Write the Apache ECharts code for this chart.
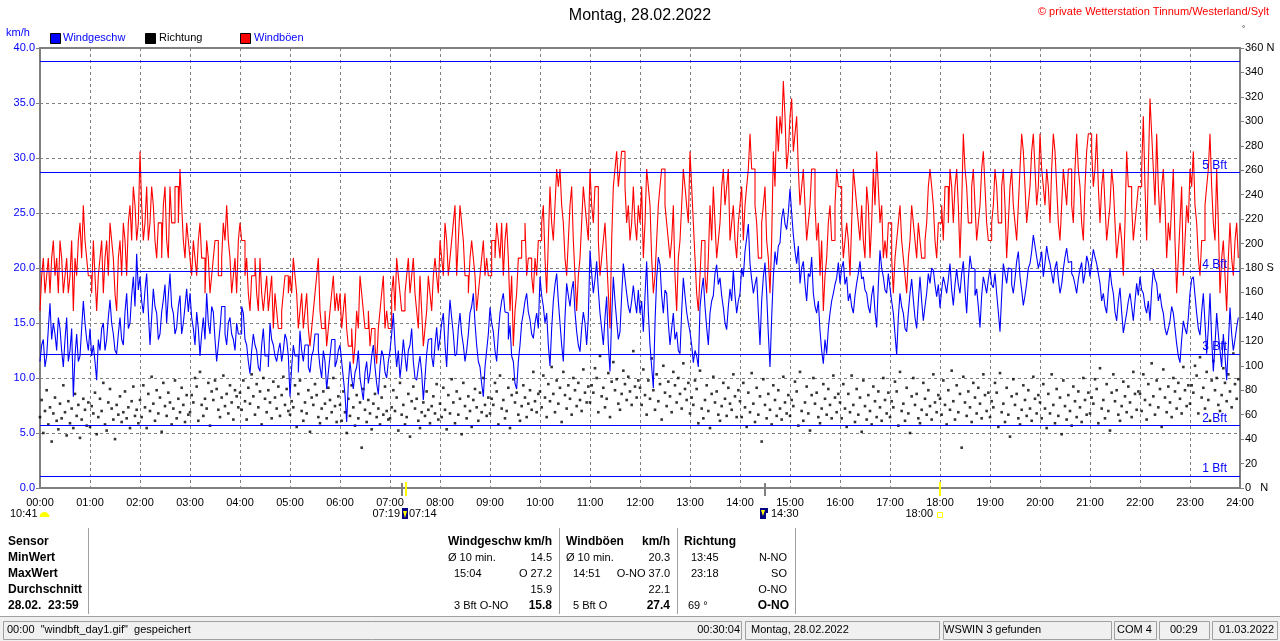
<!DOCTYPE html>
<html><head><meta charset="utf-8">
<script src="https://cdn.jsdelivr.net/npm/echarts@6/dist/echarts.min.js"></script>
<style>html,body{margin:0;padding:0;background:#fff;}#c{width:1280px;height:641px;}</style>
</head><body><div id="c"></div><script>
// ---------- DATA ----------
const timeLabels = ['00:00','01:00','02:00','03:00','04:00','05:00','06:00','07:00','08:00','09:00','10:00','11:00','12:00','13:00','14:00','15:00','16:00','17:00','18:00','19:00','20:00','21:00','22:00','23:00','24:00'];
const speedStepMin = 2;   // minutes between wind samples
const dirStepMin = 2;     // minutes between direction samples

// Windgeschw (km/h), 30 values per hour
const windSpeed = [
 11.5,13.0,13.5,11.0,12.0,14.5,16.8,13.5,15.0,14.0,12.5,15.5,14.5,12.5,11.0,13.5,15.5,11.5,12.5,14.5,8.3,12.0,14.0,11.5,12.0,14.5,17.0,15.0,13.5,12.5,
 14.5,12.0,13.0,11.5,9.8,13.5,12.5,14.5,15.0,12.5,13.5,15.5,17.1,15.0,14.0,12.5,12.2,14.0,15.5,13.5,13.0,16.0,17.7,14.5,15.0,17.5,19.2,16.5,21.3,18.0,
 19.2,17.0,15.9,18.0,19.5,16.0,13.0,15.5,18.1,16.5,15.9,13.5,14.0,16.0,17.1,18.5,15.0,17.5,19.5,16.5,15.9,14.0,14.6,16.5,17.5,14.0,15.0,16.5,18.1,16.0,
 17.7,15.5,14.5,13.0,16.0,14.5,12.0,14.0,15.5,13.5,17.7,15.0,14.0,16.5,16.0,13.5,11.5,13.0,14.5,16.5,16.5,14.0,13.0,15.0,15.5,14.0,13.5,12.5,15.0,14.0,
 14.0,16.5,15.9,13.5,13.0,11.5,10.4,12.5,14.0,13.0,12.5,11.0,10.6,13.0,14.5,12.0,12.0,11.0,15.0,13.5,13.0,12.0,11.5,12.5,13.2,11.5,12.5,14.0,13.5,12.0,
 8.3,11.0,13.0,12.0,12.0,10.5,14.3,12.5,11.5,13.0,13.0,11.0,10.5,12.0,12.5,14.0,14.0,12.5,11.0,10.0,12.5,11.5,9.0,10.5,12.0,13.5,13.5,11.0,11.5,12.5,
 13.0,11.5,10.0,8.5,6.0,9.5,11.5,10.0,9.0,10.5,11.0,12.5,10.0,9.0,8.0,10.5,11.5,9.5,10.5,12.0,13.0,11.0,9.5,8.5,11.0,12.5,12.0,10.5,10.0,11.5,
 12.5,14.0,15.9,13.0,11.0,12.5,10.0,11.5,13.5,12.0,10.6,12.5,13.0,14.5,11.5,10.0,9.8,11.0,12.0,10.5,8.0,10.0,12.2,13.5,13.6,12.0,11.0,13.0,14.6,12.5,
 13.6,15.0,15.9,13.0,11.0,14.5,17.1,15.5,14.0,12.0,12.2,14.5,15.9,14.0,13.0,11.5,12.5,14.0,15.9,16.5,17.7,15.0,13.0,11.5,11.0,9.5,8.3,11.0,12.5,14.0,
 16.4,15.0,14.2,12.5,11.5,14.0,15.9,17.0,17.7,16.0,15.9,13.5,14.8,12.0,11.5,9.5,9.0,11.5,13.0,15.0,15.9,17.0,17.7,16.0,15.3,14.0,13.6,15.0,15.9,14.5,
 19.2,17.5,16.5,15.0,15.9,13.0,11.1,14.5,17.0,18.5,19.5,17.0,15.0,13.0,11.5,15.5,18.6,17.5,16.5,18.0,18.8,16.0,14.2,13.0,12.4,14.5,16.0,15.0,13.0,15.5,
 21.6,19.5,17.7,19.0,20.6,18.0,15.9,14.5,13.0,15.5,17.4,13.0,10.6,15.5,19.2,17.0,15.2,13.5,14.2,17.5,20.4,19.0,17.7,16.5,15.9,17.0,18.4,17.0,15.9,18.0,
 15.9,17.0,14.2,17.5,20.6,16.0,13.0,11.0,9.1,15.0,19.1,21.0,20.3,17.5,15.9,18.0,17.7,15.0,13.0,14.5,15.9,13.5,14.2,12.5,12.2,16.0,19.1,17.5,16.0,15.0,
 14.2,13.0,11.4,12.5,12.0,11.0,16.4,18.0,19.1,16.5,14.6,13.0,15.9,17.0,17.5,19.5,20.3,18.5,19.1,17.5,16.4,15.0,14.4,16.5,18.1,17.0,19.8,17.5,15.9,17.0,
 17.7,20.0,19.2,21.5,22.7,24.0,20.4,19.0,17.7,18.5,19.2,16.0,13.0,17.0,19.2,20.5,17.7,14.0,11.0,15.5,19.2,21.5,20.3,22.0,22.3,24.5,25.4,24.0,23.5,25.0,
 27.2,25.0,23.0,21.5,20.4,22.0,18.6,20.0,20.6,18.5,17.0,19.5,19.2,21.0,17.7,16.5,15.9,17.0,14.3,12.5,11.3,13.5,12.2,14.5,15.9,17.0,17.7,18.5,19.1,20.5,
 18.6,20.0,20.6,18.5,19.2,17.0,17.7,16.5,15.9,17.5,18.6,19.5,20.6,19.0,19.2,18.0,17.7,16.5,15.9,17.5,18.4,16.0,14.6,18.5,21.6,20.0,19.2,18.0,17.7,19.5,
 18.2,17.0,15.9,14.0,12.1,15.5,17.7,16.5,15.9,14.5,14.2,16.0,17.7,19.0,17.1,15.5,14.5,17.0,19.2,17.0,15.2,16.5,17.7,19.5,18.6,20.0,19.8,18.5,17.4,18.5,
 16.4,18.0,19.2,18.5,17.7,19.0,20.4,18.0,16.6,18.5,19.9,18.5,17.7,19.5,20.6,18.0,15.9,19.0,21.1,20.0,19.9,17.5,18.1,16.5,14.6,17.5,19.2,18.5,17.7,19.0,
 19.9,18.5,18.2,19.5,17.7,16.0,14.2,17.5,20.4,19.5,18.6,20.0,19.9,18.5,17.7,19.0,20.6,21.5,19.2,18.0,16.6,17.5,18.6,20.0,20.4,21.5,23.0,22.0,21.0,20.0,
 20.6,21.5,19.2,20.5,22.0,21.0,20.4,19.5,18.6,20.0,20.6,19.0,17.7,18.5,19.9,21.0,21.8,20.5,20.6,19.5,19.2,18.5,17.7,19.0,19.9,20.5,18.6,19.5,21.1,20.5,
 19.2,20.5,21.7,21.0,20.4,19.5,18.6,17.0,17.7,16.5,15.9,18.0,19.9,18.5,17.7,16.0,15.2,17.0,18.2,16.0,14.1,15.0,15.9,17.0,17.7,16.5,15.2,17.0,18.6,17.5,
 19.2,18.0,17.7,16.5,15.9,17.0,15.2,18.0,19.9,19.0,18.6,17.0,17.7,16.5,15.9,14.5,13.9,14.5,15.2,16.5,15.9,14.5,13.1,12.0,11.4,13.5,15.2,14.5,14.0,15.5,
 17.7,19.0,19.2,17.5,15.9,14.5,13.9,16.0,17.7,15.0,12.2,14.5,17.7,13.5,10.6,13.0,15.9,14.0,12.5,11.0,14.0,12.0,9.8,13.0,16.4,14.0,12.5,13.5,14.6,15.5
];

// Windböen (km/h), 30 values per hour
const windGust = [
 16.1,19.3,20.9,17.7,19.3,20.9,17.7,20.9,22.5,19.3,20.9,17.7,22.5,20.9,17.7,19.3,20.9,17.7,19.3,22.5,16.1,20.9,19.3,22.5,24.1,20.9,25.7,22.5,20.9,19.3,
 19.3,17.7,22.5,19.3,16.1,19.3,20.9,22.5,17.7,20.9,22.5,19.3,24.1,22.5,20.9,17.7,16.1,20.9,22.5,19.3,24.1,22.5,19.3,24.1,25.7,22.5,27.4,25.7,22.5,24.1,
 30.6,25.7,22.5,24.1,27.4,22.5,24.1,27.4,25.7,22.5,20.9,24.1,24.1,20.9,25.7,27.4,22.5,20.9,27.4,24.1,24.1,27.4,27.4,24.1,29.0,25.7,22.5,20.9,24.1,22.5,
 20.9,19.3,22.5,20.9,19.3,22.5,24.1,20.9,20.9,17.7,22.5,20.9,17.7,19.3,20.9,22.5,22.5,19.3,19.3,20.9,24.1,22.5,25.7,22.5,20.9,17.7,19.3,20.9,17.7,22.5,
 24.1,22.5,22.5,19.3,20.9,17.7,16.1,19.3,19.3,20.9,17.7,16.1,20.9,17.7,16.1,17.7,19.3,16.1,17.7,19.3,14.5,17.7,16.1,14.5,14.5,16.1,17.7,19.3,19.3,17.7,
 19.3,17.7,20.9,19.3,17.7,14.5,16.1,17.7,14.5,16.1,17.7,14.5,12.9,14.5,16.1,17.7,19.3,20.9,16.1,14.5,14.5,16.1,12.9,14.5,16.1,17.7,19.3,16.1,17.7,16.1,
 17.7,14.5,16.1,17.7,14.5,12.9,12.9,14.5,11.3,12.9,16.1,14.5,19.3,17.7,16.1,14.5,14.5,16.1,12.9,14.5,14.5,12.9,11.3,14.5,16.1,17.7,19.3,14.5,16.1,14.5,
 14.5,17.7,19.3,16.1,20.9,19.3,17.7,16.1,16.1,17.7,19.3,20.9,17.7,19.3,20.9,17.7,16.1,14.5,19.3,16.1,12.9,14.5,16.1,19.3,17.7,16.1,19.3,20.9,19.3,17.7,
 22.5,20.9,19.3,24.1,22.5,19.3,20.9,22.5,24.1,25.7,19.3,22.5,25.7,24.1,22.5,19.3,19.3,17.7,20.9,22.5,20.9,19.3,16.1,17.7,19.3,20.9,22.5,19.3,20.9,19.3,
 19.3,22.5,22.5,20.9,24.1,22.5,20.9,24.1,19.3,22.5,24.1,20.9,16.1,19.3,12.9,16.1,17.7,20.9,20.9,22.5,22.5,24.1,19.3,20.9,20.9,19.3,17.7,20.9,19.3,22.5,
 22.5,24.1,25.7,20.9,17.7,22.5,27.4,24.1,22.5,25.7,29.0,27.4,29.0,25.7,24.1,20.9,19.3,22.5,25.7,27.4,22.5,19.3,16.1,19.3,20.9,24.1,27.4,25.7,24.1,22.5,
 29.0,25.7,24.1,27.4,27.4,22.5,19.3,20.9,22.5,24.1,20.9,17.7,14.5,22.5,27.4,29.0,30.6,27.4,29.0,30.6,30.6,27.4,24.1,25.7,22.5,24.1,27.4,24.1,22.5,25.7,
 24.1,27.4,20.9,24.1,29.0,27.4,25.7,20.9,17.7,19.3,22.5,25.7,27.4,29.0,29.0,25.7,24.1,22.5,20.9,22.5,25.7,19.3,16.1,20.9,22.5,25.7,29.0,27.4,25.7,24.1,
 30.6,27.4,24.1,20.9,17.7,16.1,19.3,22.5,22.5,19.3,17.7,20.9,25.7,22.5,27.4,24.1,20.9,22.5,24.1,27.4,29.0,25.7,27.4,29.0,22.5,24.1,25.7,22.5,20.9,24.1,
 25.7,27.4,22.5,25.7,27.4,29.0,32.2,29.0,29.0,25.7,24.1,20.9,20.9,24.1,25.7,27.4,22.5,20.9,17.7,22.5,30.6,27.4,33.8,30.6,33.8,32.2,37.0,33.8,29.0,30.6,
 33.8,35.4,30.6,32.2,33.8,29.0,25.7,27.4,29.0,25.7,22.5,24.1,25.7,29.0,29.0,25.7,22.5,24.1,19.3,22.5,16.1,19.3,20.9,24.1,25.7,22.5,22.5,25.7,29.0,27.4,
 27.4,24.1,20.9,22.5,24.1,22.5,19.3,24.1,29.0,27.4,25.7,24.1,22.5,25.7,22.5,20.9,27.4,25.7,20.9,24.1,29.0,25.7,30.6,27.4,24.1,25.7,20.9,22.5,20.9,24.1,
 24.1,20.9,17.7,20.9,22.5,24.1,25.7,22.5,20.9,19.3,17.7,20.9,22.5,25.7,24.1,22.5,20.9,24.1,22.5,20.9,20.9,22.5,24.1,27.4,29.0,27.4,25.7,22.5,20.9,24.1,
 24.1,25.7,22.5,27.4,27.4,24.1,29.0,27.4,24.1,27.4,29.0,25.7,20.9,25.7,32.2,29.0,27.4,24.1,24.1,27.4,29.0,25.7,22.5,24.1,25.7,29.0,30.6,27.4,24.1,22.5,
 22.5,24.1,25.7,29.0,27.4,24.1,24.1,27.4,29.0,25.7,20.9,24.1,27.4,29.0,25.7,24.1,22.5,25.7,29.0,32.2,30.6,27.4,24.1,25.7,27.4,30.6,32.2,29.0,25.7,27.4,
 32.2,29.0,27.4,25.7,29.0,27.4,24.1,29.0,32.2,30.6,27.4,24.1,22.5,25.7,29.0,27.4,25.7,29.0,29.0,25.7,24.1,29.0,32.2,29.0,27.4,24.1,22.5,27.4,30.6,32.2,
 32.2,30.6,27.4,29.0,32.2,27.4,24.1,27.4,29.0,25.7,22.5,24.1,25.7,29.0,27.4,24.1,20.9,22.5,24.1,22.5,19.3,24.1,30.6,27.4,27.4,25.7,22.5,24.1,25.7,27.4,
 27.4,29.0,33.8,27.4,22.5,29.0,35.4,32.2,29.0,25.7,32.2,27.4,24.1,27.4,29.0,25.7,20.9,24.1,22.5,25.7,29.0,22.5,17.7,20.9,24.1,27.4,19.3,22.5,25.7,24.1,
 29.0,27.4,30.6,25.7,24.1,20.9,19.3,22.5,22.5,25.7,27.4,29.0,32.2,27.4,24.1,22.5,29.0,24.1,17.7,20.9,22.5,19.3,16.1,20.9,24.1,20.9,19.3,22.5,24.1,20.9
];

// Richtung (degrees), 30 values per hour
const windDir = [
 58,72,45,63,80,52,66,38,61,74,55,48,69,57,84,62,43,71,53,65,49,77,59,68,41,56,73,64,51,70,
 50,67,61,78,44,58,73,63,86,52,47,70,81,65,56,40,68,60,75,54,62,79,57,66,49,71,83,59,64,53,
 72,58,84,66,49,77,63,91,69,55,80,61,74,46,86,67,59,78,70,52,65,88,57,73,62,82,68,54,76,60,
 62,76,70,90,83,55,95,68,59,73,65,86,51,79,72,88,81,64,58,74,92,67,77,61,84,70,56,80,75,66,
 78,64,88,71,56,82,69,93,75,60,85,66,79,52,90,73,62,80,70,57,87,74,65,83,59,76,91,68,81,63,
 60,71,66,84,50,77,88,63,55,70,61,80,46,74,68,85,76,58,53,65,79,69,57,82,72,62,90,67,54,75,
 68,55,79,62,45,73,59,84,66,51,76,57,70,33,81,64,54,72,61,48,69,77,58,65,52,74,60,83,63,56,
 57,66,80,63,74,47,86,60,68,52,58,77,42,71,83,65,73,55,49,62,70,59,79,64,53,67,75,61,85,56,
 69,58,82,64,48,76,61,89,70,53,79,60,73,44,86,67,57,75,63,50,72,81,66,55,78,62,90,68,59,74,
 61,73,68,86,79,52,92,65,72,57,63,82,49,76,89,70,78,60,55,67,84,74,58,69,80,64,95,71,62,77,
 79,66,92,74,58,85,71,99,77,62,88,69,82,54,95,76,65,84,73,60,90,80,67,86,72,63,97,78,70,83,
 70,84,78,98,90,62,108,75,82,66,73,94,58,87,103,80,89,69,64,77,96,85,72,91,79,68,112,83,74,88,
 82,68,97,76,60,88,73,106,80,64,93,71,85,56,100,78,67,87,75,62,95,84,70,90,77,65,102,81,72,86,
 61,74,68,88,81,53,96,65,57,72,84,63,49,77,91,70,79,60,55,67,86,73,59,82,69,64,93,75,58,80,
 71,58,86,66,50,78,62,94,69,54,82,60,75,38,89,68,57,77,64,52,84,72,59,80,65,56,91,70,61,76,
 59,72,67,87,79,51,95,63,55,70,83,61,47,76,90,69,78,58,53,65,85,73,60,81,68,57,92,74,62,77,
 70,57,85,65,50,77,62,92,68,54,81,60,74,46,88,67,56,76,63,52,83,71,58,79,66,55,90,72,61,78,
 58,71,66,87,79,51,95,63,69,55,82,61,45,75,90,68,77,57,53,64,86,73,60,80,67,56,93,70,62,76,
 73,60,88,68,52,80,64,96,71,56,84,62,77,33,91,70,59,79,66,54,86,74,61,82,69,57,93,76,63,78,
 58,71,66,86,78,50,94,62,69,54,82,60,42,75,89,68,77,57,52,64,84,72,59,80,65,55,91,73,61,76,
 70,57,85,65,49,77,61,93,68,53,81,59,74,44,88,67,56,76,63,51,83,71,58,79,66,54,90,72,60,78,
 61,74,69,89,81,53,98,65,72,57,85,63,47,78,93,71,80,60,55,67,87,75,62,83,70,58,95,77,64,79,
 77,63,93,72,56,85,68,102,75,60,88,66,81,50,97,74,62,83,70,58,90,79,65,86,73,61,99,80,67,84,
 69,84,78,100,92,61,107,74,82,65,95,72,55,88,104,80,90,68,63,76,98,86,71,93,79,66,110,85,73,89
];

// Beaufort boundary lines (km/h) and labels
const bftLevels = [1.1, 5.7, 12.2, 19.7, 28.7, 38.8];
const bftNames = ['1 Bft','2 Bft','3 Bft','4 Bft','5 Bft',''];
const dirAxisNames = {0:'0   N', 180:'180 S', 360:'360 N'};

// ---------- CHART ----------
const FONT = '"Liberation Sans", Arial, sans-serif';
const speedData = windSpeed.map((v,i)=>[i*speedStepMin, v]);
const gustData = windGust.map((v,i)=>[i*speedStepMin, v]);
const dirData = windDir.map((v,i)=>[i*dirStepMin, v]);

const RF = '11px '+FONT;
const B = 'bold 12px '+FONT;
function T(x,y,text,opt){
  const st = Object.assign({text:text, fill:'#000', font:RF,
    align:'left', verticalAlign:'middle', textAlign:'left', textVerticalAlign:'middle'}, opt||{});
  if (opt && opt.align){ st.textAlign = opt.align; }
  return {type:'text', x:x, y:y, silent:true, z:100, style:st};
}
function R(x,y,w,h,fill,stroke){
  return {type:'rect', silent:true, z:100, shape:{x:x,y:y,width:w,height:h}, style:{fill:fill||'none', stroke:stroke||null, lineWidth:1}};
}
function L(x1,y1,x2,y2,c){
  return {type:'line', silent:true, z:100, shape:{x1:x1,y1:y1,x2:x2,y2:y2}, style:{stroke:c, lineWidth:1}};
}
const graphics = [
  T(6,33,'km/h',{fill:'#0000ff'}),
  R(50.5,33.5,10,10,'#0000ff','#000'), T(63,38,'Windgeschw',{fill:'#0000ff'}),
  R(145.5,33.5,10,10,'#000','#000'), T(159,38,'Richtung'),
  R(240.5,33.5,10,10,'#ff0000','#000'), T(254,38,'Windböen',{fill:'#0000ff'}),
  T(1269,12,'© private Wetterstation Tinnum/Westerland/Sylt',{fill:'#ff0000',align:'right'}),
  T(1242,29,'°',{font:'8px '+FONT}),
  // markers on the time axis
  R(401,483,2,13,'#808080'), R(405,482,2,14,'#ffff00'),
  R(764,483,2,13,'#808080'), R(939,482,2,14,'#ffff00'),
  {type:'sector', silent:true, z:100, shape:{cx:44.5,cy:517,r:5,r0:0,startAngle:Math.PI,endAngle:2*Math.PI}, style:{fill:'#ffff00'}},
  T(10,514,'10:41'),
  T(400,514,'07:19',{align:'right'}),
  R(402,508,6,11,'#000080'),
  {type:'polygon', silent:true, z:101, shape:{points:[[403,511],[407,511],[405,518]]}, style:{fill:'#ffff00'}},
  T(409,514,'07:14'),
  R(760,508,8,11,'#000080'),
  {type:'polygon', silent:true, z:101, shape:{points:[[761,510],[765,510],[763,516]]}, style:{fill:'#ffff00'}},
  R(766,513,2,6,'#ffffff'),
  T(771,514,'14:30'),
  T(933,514,'18:00',{align:'right'}),
  R(937.5,512.5,5,5,null,'#ffff00'),
  // table
  T(8,542,'Sensor',{font:B}), T(8,558,'MinWert',{font:B}), T(8,574,'MaxWert',{font:B}),
  T(8,590,'Durchschnitt',{font:B}), T(8,606,'28.02.  23:59',{font:B}),
  L(88.5,528,88.5,614,'#a0a0a0'), L(559.5,528,559.5,614,'#a0a0a0'),
  L(677.5,528,677.5,614,'#a0a0a0'), L(795.5,528,795.5,614,'#a0a0a0'),
  T(448,542,'Windgeschw',{font:B}), T(552,542,'km/h',{font:B,align:'right'}),
  T(448,558,'Ø 10 min.'), T(552,558,'14.5',{align:'right'}),
  T(454,574,'15:04'), T(552,574,'O 27.2',{align:'right'}),
  T(552,590,'15.9',{align:'right'}),
  T(454,606,'3 Bft O-NO'), T(552,606,'15.8',{font:B,align:'right'}),
  T(566,542,'Windböen',{font:B}), T(670,542,'km/h',{font:B,align:'right'}),
  T(566,558,'Ø 10 min.'), T(670,558,'20.3',{align:'right'}),
  T(573,574,'14:51'), T(670,574,'O-NO 37.0',{align:'right'}),
  T(670,590,'22.1',{align:'right'}),
  T(573,606,'5 Bft O'), T(670,606,'27.4',{font:B,align:'right'}),
  T(684,542,'Richtung',{font:B}),
  T(691,558,'13:45'), T(787,558,'N-NO',{align:'right'}),
  T(691,574,'23:18'), T(787,574,'SO',{align:'right'}),
  T(787,590,'O-NO',{align:'right'}),
  T(688,606,'69 °'), T(789,606,'O-NO',{font:B,align:'right'}),
  // status bar
  R(0,617,1280,24,'#f0f0f0'),
  L(0,616.5,1280,616.5,'#a0a0a0'),
  R(3.5,621.5,738,18,null,'#a0a0a0'),
  R(745.5,621.5,194,18,null,'#a0a0a0'),
  R(943.5,621.5,168,18,null,'#a0a0a0'),
  R(1114.5,621.5,42,18,null,'#a0a0a0'),
  R(1159.5,621.5,50,18,null,'#a0a0a0'),
  R(1212.5,621.5,65,18,null,'#a0a0a0'),
  T(7,630,'00:00  "windbft_day1.gif"  gespeichert'),
  T(740,630,'00:30:04',{align:'right'}),
  T(751,630,'Montag, 28.02.2022'),
  T(944,630,'WSWIN 3 gefunden'),
  T(1117,630,'COM 4'),
  T(1170,630,'00:29'),
  T(1219,630,'01.03.2022')
];

const chart = echarts.init(document.getElementById('c'), null, {renderer:'canvas'});
chart.setOption({
  animation:false,
  backgroundColor:'#ffffff',
  textStyle:{fontFamily:FONT},
  title:{text:'Montag, 28.02.2022', left:'center', top:3,
    textStyle:{fontSize:16, fontWeight:'normal', color:'#000', fontFamily:FONT}},
  grid:{left:40, right:40, top:48, bottom:153, containLabel:false},
  xAxis:[{
    type:'value', min:0, max:1440, interval:60, position:'bottom',
    axisLine:{show:true, onZero:false, lineStyle:{color:'#808080', width:2}},
    axisTick:{show:false},
    axisLabel:{color:'#000', fontSize:11, margin:9, showMinLabel:true, showMaxLabel:true,
      formatter:v=>timeLabels[Math.round(v/60)]},
    splitLine:{show:true, lineStyle:{color:'#808080', type:[3,3], width:1}}
  },{
    type:'value', min:0, max:1440, interval:60, position:'top',
    axisLine:{show:true, onZero:false, lineStyle:{color:'#808080', width:2}},
    axisTick:{show:false}, axisLabel:{show:false}, splitLine:{show:false}
  }],
  yAxis:[{
    type:'value', min:0, max:40, interval:5, position:'left',
    axisLine:{show:true, onZero:false, lineStyle:{color:'#808080', width:2}},
    axisTick:{show:true, length:4, lineStyle:{color:'#808080'}},
    axisLabel:{color:'#0000ff', fontSize:11, margin:5, formatter:v=>v.toFixed(1)},
    splitLine:{show:true, lineStyle:{color:'#808080', type:[3,3], width:1}}
  },{
    type:'value', min:0, max:360, interval:20, position:'right',
    axisLine:{show:true, onZero:false, lineStyle:{color:'#808080', width:2}},
    axisTick:{show:true, length:4, lineStyle:{color:'#808080'}},
    axisLabel:{color:'#000', fontSize:11, margin:5,
      formatter:v=>(dirAxisNames[v]!==undefined ? dirAxisNames[v] : String(v))},
    splitLine:{show:false}
  }],
  series:[{
    name:'Richtung', type:'scatter', xAxisIndex:0, yAxisIndex:1,
    symbol:'rect', symbolSize:2.6, itemStyle:{color:'#000'},
    data:dirData, silent:true, z:2, emphasis:{disabled:true}
  },{
    name:'Windböen', type:'line', xAxisIndex:0, yAxisIndex:0, step:'end',
    symbol:'none', lineStyle:{color:'#ff0000', width:1.1}, data:gustData,
    silent:true, z:3, emphasis:{disabled:true},
    markLine:{silent:true, symbol:['none','none'], animation:false,
      lineStyle:{color:'#0000ff', type:'solid', width:1},
      label:{show:true, position:'insideEndTop', color:'#0000ff', fontSize:12, fontFamily:FONT,
        distance:[13,1], formatter:p=>p.name},
      emphasis:{disabled:true},
      data: bftLevels.map((v,i)=>({yAxis:v, name:bftNames[i], label:{show:bftNames[i]!==''}}))
    }
  },{
    name:'Windgeschw', type:'line', xAxisIndex:0, yAxisIndex:0, step:'end',
    symbol:'none', lineStyle:{color:'#0000ff', width:1.1}, data:speedData,
    silent:true, z:4, emphasis:{disabled:true}
  }],
  graphic:graphics
});
</script></body></html>
